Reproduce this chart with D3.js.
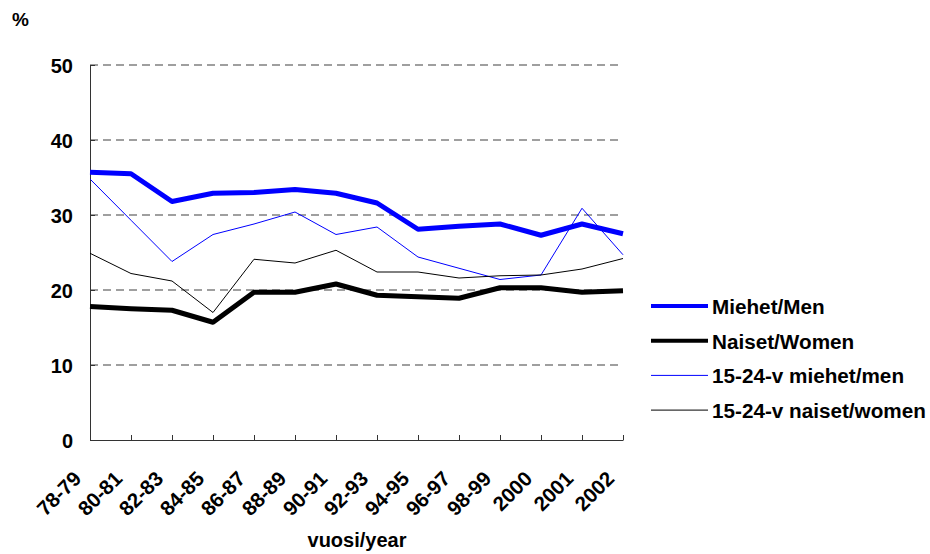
<!DOCTYPE html>
<head>
  <meta charset="utf-8">
  <script src="https://d3js.org/d3.v7.min.js"></script>
  <style>
    body { margin:0; background:#fff; }
    text { font-family: "Liberation Sans", Arial, sans-serif; font-weight: bold; fill: #000; }
  </style>
</head>
<body>
<script>

  // data (%)
  var years = ["78-79", "80-81", "82-83", "84-85", "86-87", "88-89", "90-91",
               "92-93", "94-95", "96-97", "98-99", "2000", "2001", "2002"];
  var men     = [35.7, 35.5, 31.8, 32.9, 33.0, 33.4, 32.9, 31.6, 28.1, 28.5, 28.8, 27.3, 28.8, 27.5];
  var women   = [17.8, 17.5, 17.3, 15.7, 19.7, 19.7, 20.8, 19.3, 19.1, 18.9, 20.3, 20.3, 19.7, 19.9];
  var men15   = [34.8, 29.3, 23.8, 27.4, 28.8, 30.4, 27.4, 28.4, 24.4, 22.9, 21.4, 22.0, 30.9, 24.7];
  var women15 = [24.9, 22.2, 21.2, 17.0, 24.1, 23.6, 25.3, 22.4, 22.4, 21.6, 21.9, 22.0, 22.8, 24.2];
  var yTicks  = [0, 10, 20, 30, 40, 50];

  var series = [
    {name: "Miehet/Men",              values: men,     color: "#0000ff", width: 5},
    {name: "Naiset/Women",            values: women,   color: "#000000", width: 5},
    {name: "15-24-v miehet/men",      values: men15,   color: "#0000ff", width: 1},
    {name: "15-24-v naiset/women",    values: women15, color: "#000000", width: 1}
  ];

  var margin = {top: 65, left: 90},
      width = 533,
      height = 375;

  var svg = d3.select("body").append("svg")
    .attr("width", 930)
    .attr("height", 554);

  var g = svg.append("g")
    .attr("transform", "translate(" + margin.left + "," + margin.top + ")");

  var x = d3.scalePoint().domain(years).range([0, width]);
  var y = d3.scaleLinear().domain([0, 50]).range([height, 0]);

  // dashed gridlines
  g.selectAll(".grid").data(yTicks.filter(function(d) { return d > 0; })).enter()
    .append("line")
    .attr("class", "grid")
    .attr("x1", 0).attr("x2", width)
    .attr("y1", function(d) { return y(d); })
    .attr("y2", function(d) { return y(d); })
    .attr("stroke", "#808080")
    .attr("stroke-width", 1.5)
    .attr("stroke-dasharray", "8,5");

  // y axis
  var yAxis = g.append("g")
    .call(d3.axisLeft(y).tickValues(yTicks).tickSizeInner(-5).tickSizeOuter(0).tickPadding(17));
  yAxis.select(".domain").attr("stroke", "#333");
  yAxis.selectAll("line").attr("stroke", "#333");
  yAxis.selectAll("text")
    .style("font-size", "20px")
    .attr("dy", "0.36em");

  // x axis
  var xAxis = g.append("g")
    .attr("transform", "translate(0," + height + ")")
    .call(d3.axisBottom(x).tickSizeInner(-5).tickSizeOuter(0));
  xAxis.select(".domain").attr("stroke", "#333");
  xAxis.selectAll("line").attr("stroke", "#333");
  xAxis.selectAll("text")
    .attr("x", 0).attr("y", 0).attr("dy", 0)
    .attr("text-anchor", "end")
    .attr("transform", "translate(-8,40) rotate(-45)")
    .style("font-size", "20.5px");

  // lines
  var line = d3.line()
    .x(function(d, i) { return x(years[i]); })
    .y(function(d) { return y(d); });

  g.selectAll(".series").data(series).enter()
    .append("path")
    .attr("class", "series")
    .attr("d", function(d) { return line(d.values); })
    .attr("fill", "none")
    .attr("stroke", function(d) { return d.color; })
    .attr("stroke-width", function(d) { return d.width; })
    .attr("stroke-linejoin", "round");

  // legend
  var legend = svg.selectAll(".legend").data(series).enter()
    .append("g")
    .attr("class", "legend")
    .attr("transform", function(d, i) { return "translate(651," + (306 + i * 34.7) + ")"; });

  legend.append("line")
    .attr("x1", 0).attr("x2", 57)
    .attr("stroke", function(d) { return d.color; })
    .attr("stroke-width", function(d) { return d.width === 5 ? 4 : 1; });

  legend.append("text")
    .attr("x", 61)
    .attr("y", 8)
    .style("font-size", "20.7px")
    .text(function(d) { return d.name; });

  // labels
  svg.append("text")
    .attr("x", 12).attr("y", 26)
    .style("font-size", "19px")
    .text("%");

  svg.append("text")
    .attr("x", margin.left + 267).attr("y", 547)
    .attr("text-anchor", "middle")
    .style("font-size", "20px")
    .text("vuosi/year");

</script>
</body>
